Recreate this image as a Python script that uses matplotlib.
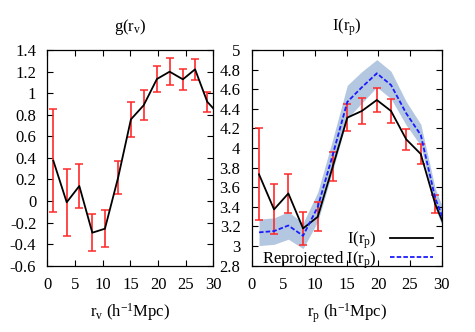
import matplotlib
matplotlib.use('Agg')
import matplotlib.pyplot as plt
from matplotlib.ticker import FuncFormatter, MultipleLocator

plt.rcParams['font.family'] = 'Liberation Serif'
plt.rcParams['mathtext.fontset'] = 'custom'
plt.rcParams['mathtext.rm'] = 'Liberation Serif'
plt.rcParams['mathtext.it'] = 'Liberation Serif:italic'
plt.rcParams['font.size'] = 12

# left panel: g(r_v)
rv = [1.07, 3.49, 5.77, 8.12, 10.4, 12.8, 15.1, 17.4, 19.8, 22.1, 24.5, 26.7, 28.9, 31.4]
g = [0.374, -0.012, 0.139, -0.294, -0.257, 0.22, 0.757, 0.887, 1.131, 1.199, 1.128, 1.221, 0.92, 0.78]
g_err = [0.475, 0.31, 0.205, 0.17, 0.17, 0.155, 0.16, 0.14, 0.12, 0.125, 0.1, 0.095, 0.093, 0.09]

# right panel: I(r_p)
rp = [1.17, 3.54, 5.8, 8.12, 10.44, 12.8, 15.1, 17.4, 19.76, 22.0, 24.4, 26.7, 28.97, 31.3]
I = [3.732, 3.374, 3.537, 3.18, 3.299, 3.81, 4.31, 4.378, 4.49, 4.378, 4.089, 3.939, 3.43, 3.07]
I_err = [0.47, 0.255, 0.2, 0.165, 0.147, 0.145, 0.14, 0.13, 0.125, 0.12, 0.11, 0.1, 0.09, 0.09]
I_rep = [3.14, 3.153, 3.21, 3.105, 3.40, 3.93, 4.47, 4.62, 4.762, 4.643, 4.354, 4.133, 3.49, 3.1]
I_rep_err = [0.135, 0.135, 0.14, 0.13, 0.15, 0.16, 0.17, 0.16, 0.14, 0.14, 0.12, 0.11, 0.1, 0.1]

fig = plt.figure(figsize=(4.75, 3.32), dpi=100)
ax1 = fig.add_axes([0.0998, 0.1997, 0.3493, 0.6497])
ax2 = fig.add_axes([0.5297, 0.1997, 0.4002, 0.6497])

fmt = FuncFormatter(lambda v, p: '%g' % round(v, 2))

# left
ax1.errorbar(rv, g, yerr=g_err, fmt='none', ecolor='#ff2a2a', elinewidth=1.2, capsize=3, capthick=1.1, zorder=2)
ax1.plot(rv, g, color='black', lw=1.3, zorder=3)
ax1.set_xlim(0, 30)
ax1.set_ylim(-0.6, 1.4)
ax1.yaxis.set_major_locator(MultipleLocator(0.2))
ax1.set_title(r'g(r$_\mathrm{v}$)', fontsize=12, pad=14)
ax1.set_xlabel(r'r$_\mathrm{v}$ (h$^\mathrm{-1}$Mpc)', labelpad=6)

# right
lo = [a - b for a, b in zip(I_rep, I_rep_err)]
hi = [a + b for a, b in zip(I_rep, I_rep_err)]
ax2.fill_between(rp, lo, hi, color='#b3c7e1', lw=0, zorder=1)
ax2.errorbar(rp, I, yerr=I_err, fmt='none', ecolor='#ff2a2a', elinewidth=1.2, capsize=3, capthick=1.1, zorder=2)
ax2.plot(rp, I, color='black', lw=1.3, zorder=3, label=r'I(r$_\mathrm{p}$)')
ax2.plot(rp, I_rep, color='#1a1aff', lw=1.3, ls=(0, (2.5, 1.2)), zorder=3,
         label=r'Reprojected I(r$_\mathrm{p}$)')
ax2.set_xlim(0, 30)
ax2.set_ylim(2.8, 5)
ax2.yaxis.set_major_locator(MultipleLocator(0.2))
ax2.set_title(r'I(r$_\mathrm{p}$)', fontsize=12, pad=14)
ax2.set_xlabel(r'r$_\mathrm{p}$ (h$^\mathrm{-1}$Mpc)', labelpad=6)
ax2.legend(loc='lower right', bbox_to_anchor=(0.955, -0.023), frameon=False, markerfirst=False,
           handlelength=2.6, labelspacing=-0.12, borderaxespad=0.0, borderpad=0.0,
           handletextpad=0.8, fontsize=12)

for ax in (ax1, ax2):
    ax.xaxis.set_major_locator(MultipleLocator(5))
    ax.yaxis.set_major_formatter(fmt)
    ax.tick_params(direction='in', length=4, width=0.8, top=True, right=True, pad=8, labelsize=12)
    for s in ax.spines.values():
        s.set_linewidth(0.9)

plt.savefig('out.png', dpi=100)
